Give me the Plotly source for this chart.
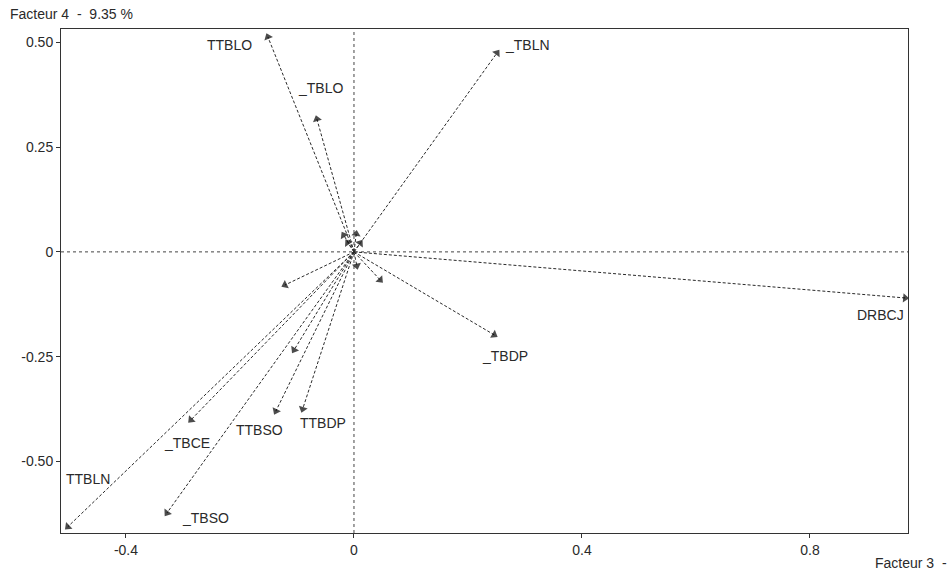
import plotly.graph_objects as go

# Variable coordinates on factors 3 (x) and 4 (y)
names = ["TTBLO", "_TBLO", "_TBLN", "DRBCJ", "_TBDP", "TTBDP",
         "TTBSO", "_TBCE", "_TBSO", "TTBLN"]
f3 = [-0.151, -0.065, 0.251, 0.967, 0.246, -0.090,
      -0.137, -0.286, -0.328, -0.502]
f4 = [0.513, 0.317, 0.475, -0.110, -0.198, -0.375,
      -0.380, -0.401, -0.623, -0.656]

# Short vectors close to the origin (labels not shown)
short_f3 = [-0.121, -0.105, 0.046, 0.005, 0.004, -0.018, -0.011, 0.011]
short_f4 = [-0.079, -0.234, -0.067, -0.033, 0.043, 0.040, 0.022, 0.021]

# Label offsets in pixels relative to each arrow tip (dx, dy up)
label_shift = [(-38, -8), (4, 31), (30, 8), (-25, -17), (11, -21),
               (20, -14), (-16, -19), (-4, -23), (38, -5), (20, 48)]

FONT = "Liberation Sans, Arial, sans-serif"
INK = "#2a2a2a"

fig = go.Figure()


def add_vector(x, y):
    fig.add_trace(go.Scatter(
        x=[0, x], y=[0, y], mode="lines+markers",
        line=dict(color=INK, width=1, dash="3px,2px"),
        marker=dict(symbol="triangle-up", angleref="previous",
                    size=[0, 8], color="black", line=dict(width=0)),
        hoverinfo="skip", showlegend=False,
    ))


for x, y in zip(short_f3, short_f4):
    add_vector(x, y)
for x, y in zip(f3, f4):
    add_vector(x, y)

for name, x, y, (dx, dy) in zip(names, f3, f4, label_shift):
    fig.add_annotation(x=x, y=y, text=name, showarrow=False,
                       xshift=dx, yshift=dy, xanchor="center", yanchor="middle",
                       font=dict(family=FONT, size=14, color=INK))

# Dotted axes through the origin
fig.add_shape(type="line", xref="x", yref="paper", x0=0, x1=0, y0=0, y1=1,
              line=dict(color="#444", width=1, dash="dot"), layer="below")
fig.add_shape(type="line", xref="paper", yref="y", x0=0, x1=1, y0=0, y1=0,
              line=dict(color="#444", width=1, dash="dot"), layer="below")

fig.add_annotation(xref="paper", yref="paper", x=-0.0626, y=1.0298,
                   text="Facteur\u00a04\u00a0\u00a0-\u00a0\u00a09.35\u00a0%",
                   showarrow=False, xanchor="left", yanchor="middle",
                   font=dict(family=FONT, size=14, color=INK))
fig.add_annotation(xref="paper", yref="paper", x=0.9587, y=-0.0595,
                   text="Facteur\u00a03\u00a0\u00a0-",
                   showarrow=False, xanchor="left", yanchor="middle",
                   font=dict(family=FONT, size=14, color=INK))

axis_common = dict(showgrid=False, zeroline=False, showline=True,
                   linecolor="#333", linewidth=1, mirror=True,
                   ticks="outside", ticklen=4, tickcolor="#333",
                   tickfont=dict(family=FONT, size=14, color=INK))

fig.update_layout(
    width=951, height=574,
    margin=dict(l=61, r=43, t=29, b=41),
    paper_bgcolor="white", plot_bgcolor="white",
    xaxis=dict(range=[-0.514, 0.972], tickvals=[-0.4, 0, 0.4, 0.8],
               ticktext=["-0.4", "0", "0.4", "0.8"], **axis_common),
    yaxis=dict(range=[-0.671, 0.532], tickvals=[-0.5, -0.25, 0, 0.25, 0.5],
               ticktext=["-0.50", "-0.25", "0", "0.25", "0.50"], **axis_common),
)

fig.write_html("out.html")
